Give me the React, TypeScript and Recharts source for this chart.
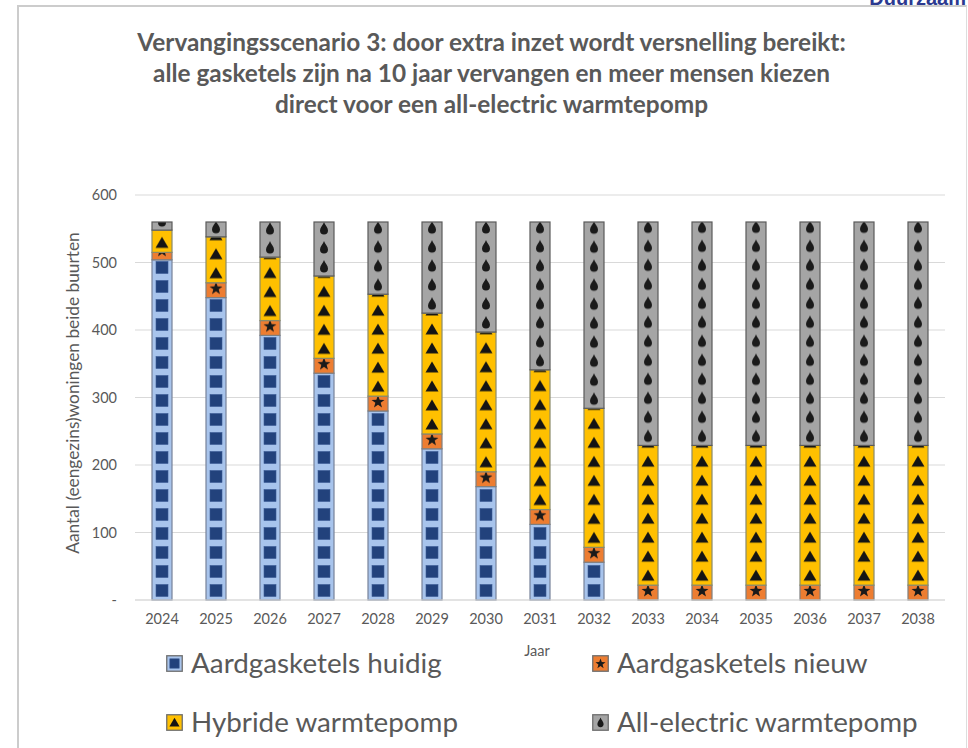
import React from 'react';
import { BarChart, Bar, XAxis, YAxis, CartesianGrid } from 'recharts';

const years = ['2024', '2025', '2026', '2027', '2028', '2029', '2030', '2031', '2032', '2033', '2034', '2035', '2036', '2037', '2038'];
const aardgasHuidig = [504, 448, 392, 336, 280, 224, 168, 112, 56, 0, 0, 0, 0, 0, 0];
const aardgasNieuw = [11, 22, 22, 22, 22, 22, 22, 22, 22, 22, 22, 22, 22, 22, 22];
const hybride = [33, 68, 94, 122, 151, 179, 207, 207, 206, 207, 207, 207, 207, 207, 207];
const allElectric = [12, 22, 52, 80, 107, 135, 163, 219, 276, 331, 331, 331, 331, 331, 331];
const yTicks = [0, 100, 200, 300, 400, 500, 600];

const titleLines = [
  'Vervangingsscenario 3: door extra inzet wordt versnelling bereikt:',
  'alle gasketels zijn na 10 jaar vervangen en meer mensen kiezen',
  'direct voor een all-electric warmtepomp',
];
const yLabel = 'Aantal (eengezins)woningen beide buurten';
const xLabel = 'Jaar';

type Kind = 'square' | 'star' | 'triangle' | 'drop';

const series: { key: string; name: string; kind: Kind; bg: string; stroke: string }[] = [
  { key: 'huidig', name: 'Aardgasketels huidig', kind: 'square', bg: '#A8C4EC', stroke: '#77839a' },
  { key: 'nieuw', name: 'Aardgasketels nieuw', kind: 'star', bg: '#ED7D31', stroke: '#7f7f7f' },
  { key: 'hybride', name: 'Hybride warmtepomp', kind: 'triangle', bg: '#FFC000', stroke: '#8a8a6a' },
  { key: 'electric', name: 'All-electric warmtepomp', kind: 'drop', bg: '#A5A5A5', stroke: '#5a5a5a' },
];

const data = years.map((y, i) => ({
  year: y,
  huidig: aardgasHuidig[i],
  nieuw: aardgasNieuw[i],
  hybride: hybride[i],
  electric: allElectric[i],
}));

function starPoints(cx: number, cy: number, ro: number, ri: number) {
  const pts: string[] = [];
  for (let k = 0; k < 10; k++) {
    const r = k % 2 === 0 ? ro : ri;
    const a = -Math.PI / 2 + (k * Math.PI) / 5;
    pts.push(`${cx + r * Math.cos(a)},${cy + r * Math.sin(a)}`);
  }
  return pts.join(' ');
}

function Symbol({ kind, cx, cy, s = 1 }: { kind: Kind; cx: number; cy: number; s?: number }) {
  if (kind === 'square') {
    const h = 6 * s;
    return <rect x={cx - h} y={cy - h} width={2 * h} height={2 * h} fill="#22427C" stroke="#3a5a94" strokeWidth={0.6} />;
  }
  if (kind === 'star') {
    return <polygon points={starPoints(cx, cy + 0.5 * s, 6.8 * s, 2.8 * s)} fill="#1a1a1a" />;
  }
  if (kind === 'triangle') {
    return <polygon points={`${cx},${cy - 6 * s} ${cx - 6.5 * s},${cy + 5 * s} ${cx + 6.5 * s},${cy + 5 * s}`} fill="#141414" />;
  }
  const r = 4 * s;
  const top = cy - 6.5 * s;
  const by = cy + 2 * s;
  return (
    <path
      d={`M ${cx} ${top} C ${cx + 1 * s} ${top + 3 * s} ${cx + r} ${by - 3 * s} ${cx + r} ${by} A ${r} ${r} 0 0 1 ${cx - r} ${by} C ${cx - r} ${by - 3 * s} ${cx - 1 * s} ${top + 3 * s} ${cx} ${top} Z`}
      fill="#1a1a1a"
    />
  );
}

const PERIOD = 19;

function makeShape(kind: Kind, bg: string, stroke: string) {
  return (props: any) => {
    const { x, y, width, height, index } = props;
    if (!height || height <= 0.5) return <g />;
    const id = `pat-${kind}-${index}`;
    const bottom = y + height;
    return (
      <g>
        <defs>
          <pattern id={id} patternUnits="userSpaceOnUse" x={x} y={bottom} width={width} height={PERIOD}>
            <rect x={0} y={0} width={width} height={PERIOD} fill={bg} />
            <Symbol kind={kind} cx={width / 2} cy={PERIOD / 2} />
          </pattern>
        </defs>
        <rect x={x} y={y} width={width} height={height} fill={`url(#${id})`} stroke={stroke} strokeWidth={1.2} />
      </g>
    );
  };
}

function LegendItem({ s, left, top }: { s: (typeof series)[number]; left: number; top: number }) {
  return (
    <div style={{ position: 'absolute', left, top, display: 'flex', alignItems: 'center', height: 32 }}>
      <svg width={17} height={17} style={{ marginRight: 8 }}>
        <rect x={0.75} y={0.75} width={15.5} height={15.5} fill={s.bg} stroke="#6f6f6f" strokeWidth={1.3} />
        <Symbol kind={s.kind} cx={8.5} cy={8.5} s={0.78} />
      </svg>
      <span style={{ fontSize: 27.8, color: '#595959', whiteSpace: 'nowrap', lineHeight: '32px' }}>{s.name}</span>
    </div>
  );
}

export default function App() {
  const font = 'Lato, "Open Sans", sans-serif';
  return (
    <div style={{ position: 'absolute', left: 0, top: 0, width: 968, height: 748, overflow: 'hidden', background: '#fff', fontFamily: font }}>
      <div style={{ position: 'absolute', right: 2, top: -12, fontFamily: '"Liberation Sans", Arial, sans-serif', fontWeight: 700, fontSize: 20, lineHeight: '20px', color: '#2B3990' }}>
        Duurzaam
      </div>
      <div style={{ position: 'absolute', left: 17, top: 5, width: 947, height: 800, borderLeft: '2px solid #cccccc', borderTop: '2px solid #cccccc', borderRight: '1.5px solid #dddddd' }} />
      <div style={{ position: 'absolute', left: 17, top: 26, width: 949, textAlign: 'center', fontWeight: 700, fontSize: 24.4, lineHeight: '31px', color: '#595959' }}>
        {titleLines.map((t) => (
          <div key={t}>{t}</div>
        ))}
      </div>
      <div style={{ position: 'absolute', left: 0, top: 0 }}>
        <BarChart width={968} height={748} data={data} margin={{ top: 195, right: 23, bottom: 118, left: 55 }} barSize={20}>
          <CartesianGrid vertical={false} stroke="#d9d9d9" strokeWidth={1.2} />
          <XAxis
            dataKey="year"
            height={30}
            tickLine={false}
            axisLine={{ stroke: '#d9d9d9', strokeWidth: 1.2 }}
            tickMargin={8}
            tick={{ fill: '#595959', fontSize: 14.5, fontFamily: font }}
            interval={0}
          />
          <YAxis
            width={80}
            domain={[0, 600]}
            ticks={yTicks}
            axisLine={false}
            tickLine={false}
            tickMargin={12}
            tick={{ fill: '#595959', fontSize: 14.5, fontFamily: font }}
            tickFormatter={(v: number) => (v === 0 ? '-' : String(v))}
          />
          {series.map((s) => (
            <Bar key={s.key} dataKey={s.key} name={s.name} stackId="a" fill={s.bg} isAnimationActive={false} shape={makeShape(s.kind, s.bg, s.stroke)} />
          ))}
        </BarChart>
      </div>
      <div
        style={{
          position: 'absolute',
          left: 73 - 220,
          top: 393 - 11,
          width: 440,
          height: 22,
          lineHeight: '22px',
          textAlign: 'center',
          transformOrigin: '50% 50%',
          transform: 'rotate(-90deg)',
          fontSize: 17.3,
          color: '#595959',
          whiteSpace: 'nowrap',
        }}
      >
        {yLabel}
      </div>
      <div style={{ position: 'absolute', left: 537, top: 650, transform: 'translate(-50%, -50%)', fontSize: 14.5, color: '#595959' }}>{xLabel}</div>
      <LegendItem s={series[0]} left={166} top={647} />
      <LegendItem s={series[1]} left={592} top={647} />
      <LegendItem s={series[2]} left={166} top={706} />
      <LegendItem s={series[3]} left={592} top={706} />
    </div>
  );
}
